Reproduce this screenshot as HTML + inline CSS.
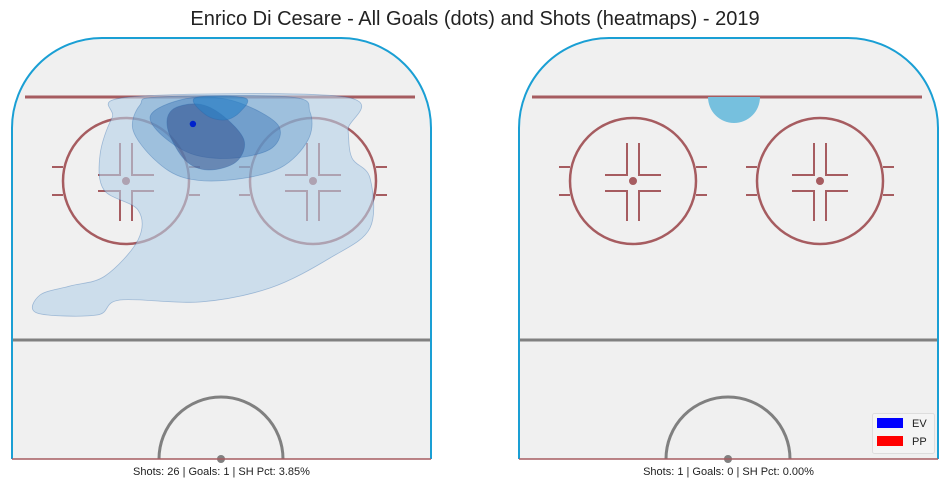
<!DOCTYPE html>
<html><head><meta charset="utf-8"><style>
body{margin:0;background:#fff;font-family:"Liberation Sans",sans-serif}
</style></head><body>
<svg width="950" height="489" viewBox="0 0 950 489">
<text x="475" y="25" text-anchor="middle" font-size="20" fill="#222">Enrico Di Cesare - All Goals (dots) and Shots (heatmaps) - 2019</text>
<g id="rinks"></g>
</svg>
<script>
const panels = ["left","right"];
const shots = [26, 1];
const goals = [1, 0];
const pcts = ["3.85%", "0.00%"];
// goal positions (feet): x across, y along length
const goalX = [[-5.8], []];
const goalY = [[81.9], []];
const goalType = [["EV"], []];

const NS="http://www.w3.org/2000/svg";
const root=document.getElementById('rinks');
function mk(t,a,p){const e=document.createElementNS(NS,t);for(const k in a)e.setAttribute(k,a[k]);(p||root).appendChild(e);return e;}
function smooth(pts){
  const n=pts.length;let d=`M${pts[0][0]},${pts[0][1]}`;
  for(let i=0;i<n;i++){
    const p0=pts[(i-1+n)%n],p1=pts[i],p2=pts[(i+1)%n],p3=pts[(i+2)%n];
    const c1=[p1[0]+(p2[0]-p0[0])/6,p1[1]+(p2[1]-p0[1])/6];
    const c2=[p2[0]-(p3[0]-p1[0])/6,p2[1]-(p3[1]-p1[1])/6];
    d+=` C${c1[0]},${c1[1]} ${c2[0]},${c2[1]} ${p2[0]},${p2[1]}`;
  }
  return d+'Z';
}
const RED="#a65c60", GRAY="#808080";
panels.forEach((pn,i)=>{
  const off=i*507;
  const g=mk('g',{transform:`translate(${off},0)`});
  
  
  const sx=f=>221.5+f*4.93, sy=f=>97+(89-f)*3.8;
  const L=12,R=431,T=38,B=459,r=90;
  mk('path',{d:`M${L},${B} L${L},${T+r} A${r},${r} 0 0 1 ${L+r},${T} L${R-r},${T} A${r},${r} 0 0 1 ${R},${T+r} L${R},${B} Z`,fill:"#f0f0f0",stroke:"none"},g);
  mk('line',{x1:25,y1:97,x2:415,y2:97,stroke:RED,"stroke-width":3},g);
  mk('line',{x1:L,y1:340,x2:R,y2:340,stroke:GRAY,"stroke-width":3},g);
  mk('path',{d:`M159,459 A62,62 0 0 1 283,459`,fill:"none",stroke:GRAY,"stroke-width":3},g);
  mk('circle',{cx:221,cy:459,r:4,fill:GRAY},g);
  [126,313].forEach(cx=>{
    const cy=181;
    mk('circle',{cx,cy,r:63,fill:"none",stroke:RED,"stroke-width":2.5},g);
    mk('circle',{cx,cy,r:4,fill:RED},g);
    const d=`M${cx-74},${cy-14}h11 M${cx-74},${cy+14}h11 M${cx+63},${cy-14}h11 M${cx+63},${cy+14}h11
      M${cx-6},${cy-38}v32h-22 M${cx+6},${cy-38}v32h22 M${cx-6},${cy+40}v-30h-22 M${cx+6},${cy+40}v-30h22`;
    mk('path',{d,fill:"none",stroke:RED,"stroke-width":2},g);
  });
  if(i===0){
    const layers=[
      [[[130,97],[345,97],[348,130],[352,158],[370,178],[370,228],[330,258],[270,288],[200,302],[120,300],[97,315],[37,313],[40,295],[70,286],[105,276],[138,240],[138,210],[104,190],[100,155],[112,118]],"rgba(180,208,232,0.6)"],
      [[[160,97],[290,97],[310,112],[308,140],[280,168],[230,180],[185,178],[155,160],[133,130],[140,105]],"rgba(90,150,200,0.4)"],
      [[[165,105],[200,97],[240,103],[278,125],[272,148],[235,158],[195,155],[165,138],[150,118]],"rgba(60,120,185,0.45)"],
      [[[172,110],[198,104],[222,115],[244,140],[236,162],[208,170],[185,160],[168,130]],"rgba(50,80,140,0.5)"],
      [[[195,98],[245,98],[240,112],[225,120],[206,115]],"rgba(40,130,200,0.6)"]];
    layers.forEach((l,k)=>{const p=mk('path',{d:smooth(l[0]),fill:l[1],stroke:"rgba(40,100,170,0.35)","stroke-width":0.8},g);
      
      });
  } else {
    const p=mk('path',{d:"M201,97 A26,26 0 0 0 253,97Z",fill:"#76c0de"},g);
    
    
  }
  mk('rect',{x:0,y:0,width:450,height:97,fill:"none"},g);
  mk('path',{d:`M${L},${B} L${L},${T+r} A${r},${r} 0 0 1 ${L+r},${T} L${R-r},${T} A${r},${r} 0 0 1 ${R},${T+r} L${R},${B}`,fill:"none",stroke:"#1a9fd4","stroke-width":2},g);
  mk('line',{x1:L,y1:B,x2:R,y2:B,stroke:RED,"stroke-width":1.5},g);
  goalX[i].forEach((gx,j)=>{
    const c=mk('circle',{cx:sx(gx),cy:sy(goalY[i][j]),r:3.2,fill:goalType[i][j]==="EV"?"#0022cc":"#ff0000"},g);
    
    
  });
  const t=mk('text',{x:221.5,y:475,"text-anchor":"middle","font-size":11,fill:"#222"},g);
  t.textContent=`Shots: ${shots[i]} | Goals: ${goals[i]} | SH Pct: ${pcts[i]}`;
  
  
});
const lg=mk('g',{});


mk('rect',{x:872.5,y:413.5,width:62,height:40,rx:2,fill:"#f4f4f4",stroke:"#ddd"},lg);
[["EV","#0000ff",418],["PP","#ff0000",436]].forEach(e=>{
  mk('rect',{x:877,y:e[2],width:26,height:10,fill:e[1]},lg);
  const t=mk('text',{x:912,y:e[2]+9,"font-size":11,fill:"#222"},lg);t.textContent=e[0];
});
</script>
</body></html>
